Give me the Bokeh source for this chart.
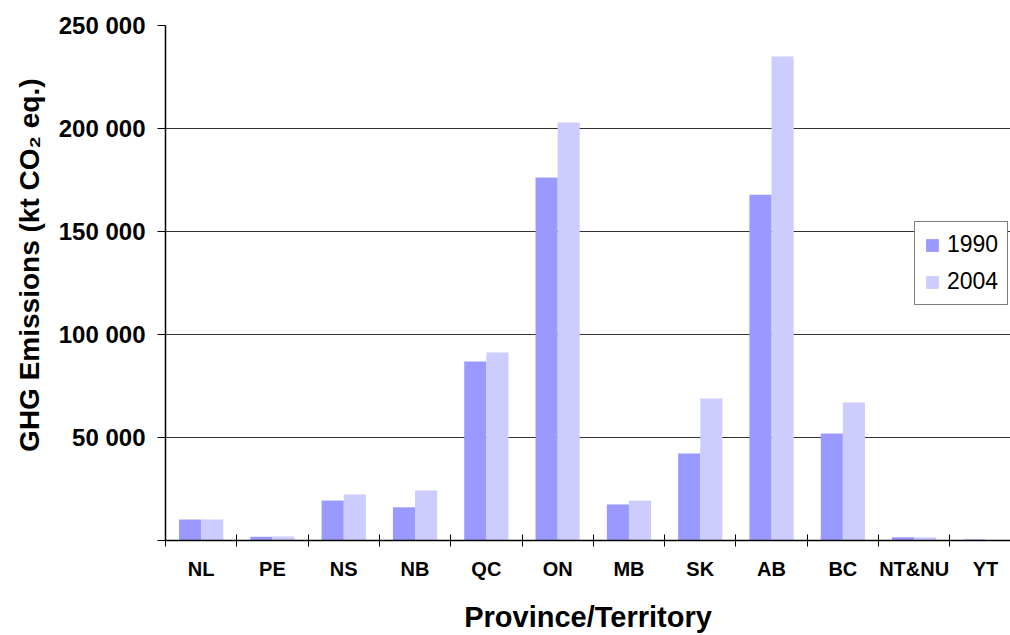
from bokeh.plotting import figure
from bokeh.models import ColumnDataSource, Range1d, FixedTicker, Legend, LegendItem, Title
from bokeh.transform import dodge
from bokeh.embed import file_html
from bokeh.resources import INLINE

provinces = ["NL", "PE", "NS", "NB", "QC", "ON", "MB", "SK", "AB", "BC", "NT&NU", "YT"]
emissions_1990 = [10200, 1800, 19400, 16100, 86900, 176200, 17500, 42200, 167900, 51900, 1600, 500]
emissions_2004 = [10200, 1900, 22300, 24300, 91300, 202900, 19400, 68900, 234900, 67000, 1600, 0]
y_ticks = [0, 50000, 100000, 150000, 200000, 250000]
y_tick_labels = ["", "50 000", "100 000", "150 000", "200 000", "250 000"]

centers = list(range(1, len(provinces) + 1))
bounds = [c - 0.5 for c in centers] + [len(provinces) + 0.5]

src = ColumnDataSource(dict(x=centers, prov=provinces, v1990=emissions_1990, v2004=emissions_2004))

FONT = "Liberation Sans"
cat_px = 71.3
W, H = 1010, 635
left, top, bottom = 165, 25, 95
frame_w = W - left

p = figure(width=W, height=H, output_backend="svg", toolbar_location=None,
           x_range=Range1d(0.5, 0.5 + frame_w / cat_px), y_range=Range1d(0, 250000),
           min_border_left=left, min_border_right=0, min_border_top=top, min_border_bottom=bottom)
p.outline_line_color = None
p.background_fill_color = "white"
p.border_fill_color = "white"

r1 = p.vbar(x=dodge("x", -0.155, range=p.x_range), top="v1990", width=0.31, source=src,
            fill_color="#9999FF", line_color=None)
r2 = p.vbar(x=dodge("x", 0.155, range=p.x_range), top="v2004", width=0.31, source=src,
            fill_color="#CCCCFF", line_color=None)

# x axis
xa = p.xaxis[0]
xa.ticker = FixedTicker(ticks=centers, minor_ticks=bounds)
xa.major_label_overrides = {c: n for c, n in zip(centers, provinces)}
xa.major_tick_line_color = None
xa.minor_tick_line_color = "black"
xa.minor_tick_in = 6
xa.minor_tick_out = 6
xa.axis_line_color = "black"
xa.axis_line_width = 1.5
xa.major_label_text_font = FONT
xa.major_label_text_font_style = "bold"
xa.major_label_text_font_size = "20px"
xa.major_label_text_color = "black"
xa.major_label_standoff = 11
xa.axis_label = "Province/Territory"
xa.axis_label_text_font = FONT
xa.axis_label_text_font_style = "bold"
xa.axis_label_text_font_size = "29px"
xa.axis_label_text_color = "black"
xa.axis_label_standoff = 18

# y axis
ya = p.yaxis[0]
ya.ticker = FixedTicker(ticks=y_ticks, minor_ticks=[])
ya.major_label_overrides = {t: l for t, l in zip(y_ticks, y_tick_labels)}
ya.major_tick_in = 0
ya.major_tick_out = 8
ya.major_tick_line_color = "black"
ya.axis_line_color = "black"
ya.axis_line_width = 1.5
ya.major_label_text_font = FONT
ya.major_label_text_font_style = "bold"
ya.major_label_text_font_size = "24px"
ya.major_label_text_color = "black"
ya.major_label_standoff = 12

ytitle = Title(text="GHG Emissions (kt CO\u2082 eq.)", align="right", offset=53,
               text_font=FONT, text_font_style="bold", text_font_size="28px",
               text_color="black", standoff=21)
p.add_layout(ytitle, "left")

p.xgrid.grid_line_color = None
p.ygrid.grid_line_color = "#333333"
p.ygrid.grid_line_width = 1

legend = Legend(items=[LegendItem(label="1990", renderers=[r1]),
                       LegendItem(label="2004", renderers=[r2])],
                location=(749, 235))
legend.label_text_font = FONT
legend.label_text_font_size = "23px"
legend.label_text_color = "black"
legend.glyph_width = 16
legend.glyph_height = 16
legend.label_standoff = 7
legend.padding = 9
legend.spacing = 10
legend.margin = 0
legend.border_line_color = "black"
legend.border_line_width = 1
legend.background_fill_color = "white"
legend.background_fill_alpha = 1
p.add_layout(legend)

open("out.html", "w").write(file_html(p, INLINE))
